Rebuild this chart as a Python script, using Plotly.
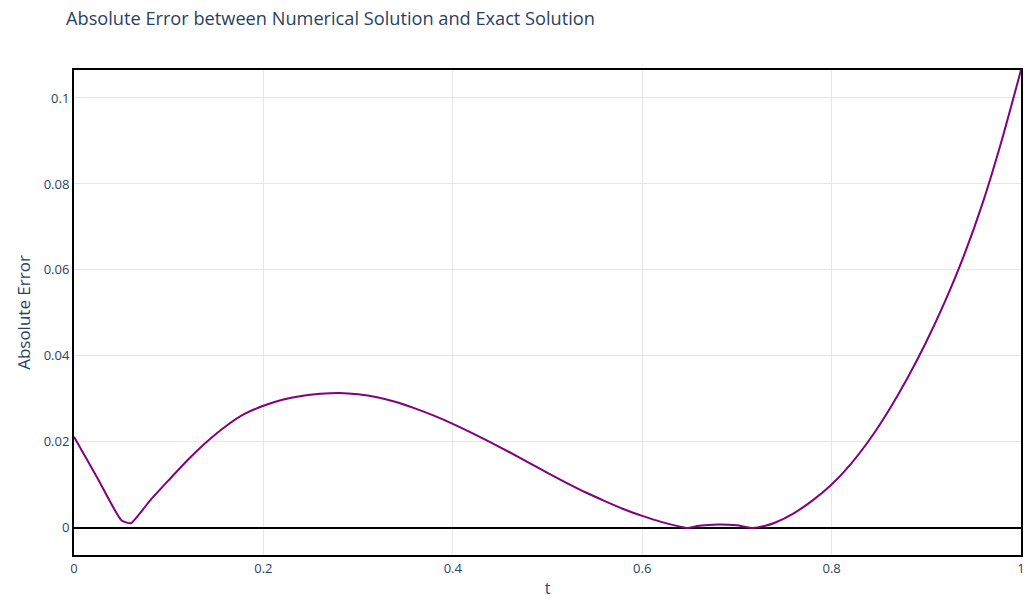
import plotly.graph_objects as go

t_values = [0, 0.025, 0.05, 0.06, 0.08, 0.10, 0.12, 0.14, 0.16, 0.18, 0.20, 0.22, 0.24, 0.26,
            0.28, 0.30, 0.32, 0.34, 0.36, 0.38, 0.40, 0.42, 0.44, 0.46, 0.48, 0.50, 0.52, 0.54,
            0.56, 0.58, 0.60, 0.62, 0.64, 0.648, 0.66, 0.68, 0.70, 0.717, 0.73, 0.74, 0.76,
            0.78, 0.80, 0.82, 0.84, 0.86, 0.88, 0.90, 0.92, 0.94, 0.96, 0.98, 1.0]
abs_error = [0.0212, 0.0115, 0.0018, 0.0011, 0.0063, 0.0111, 0.0158, 0.0200, 0.0236, 0.0265,
             0.0284, 0.0298, 0.0307, 0.0312, 0.0314, 0.0311, 0.0304, 0.0293, 0.0278, 0.0261,
             0.0242, 0.0221, 0.0199, 0.0176, 0.0152, 0.0128, 0.0105, 0.0083, 0.0063, 0.0044,
             0.0028, 0.0014, 0.0003, 0.0, 0.0005, 0.0008, 0.0006, 0.0, 0.0005, 0.0012, 0.0034,
             0.0064, 0.0101, 0.0148, 0.0205, 0.0272, 0.0348, 0.0433, 0.0528, 0.0635, 0.0759,
             0.0904, 0.1065]

fig = go.Figure()
fig.add_trace(go.Scatter(x=t_values, y=abs_error, mode="lines", line_shape="spline",
                         line=dict(color="purple", width=2, smoothing=0.5),
                         name="Absolute Error"))

axis_common = dict(showline=True, linecolor="black", linewidth=2, mirror=True,
                   gridcolor="#e6e6e6", zeroline=True, zerolinecolor="black", zerolinewidth=2,
                   tickfont=dict(size=13, color="#2a3f5f"), automargin=False)

W, H = 1026, 599
fig.update_layout(
    template="plotly_white",
    width=W, height=H,
    margin=dict(l=74, r=5, t=70, b=44),
    title=dict(text="Absolute Error between Numerical Solution and Exact Solution",
               x=66/W, xanchor="left", y=1-19/H, yanchor="middle",
               font=dict(size=18.2, color="#2a3f5f")),
    showlegend=False,
    xaxis=dict(title=dict(text="t", font=dict(size=16, color="#2a3f5f"), standoff=12),
               range=[0, 1], dtick=0.2, **axis_common),
    yaxis=dict(title=dict(text="Absolute Error", font=dict(size=17, color="#2a3f5f"), standoff=9),
               range=[-0.0063, 0.1065], dtick=0.02, **axis_common),
)

fig.write_html("out.html", config={"displayModeBar": False},
               post_script="document.body.style.margin='0';")
